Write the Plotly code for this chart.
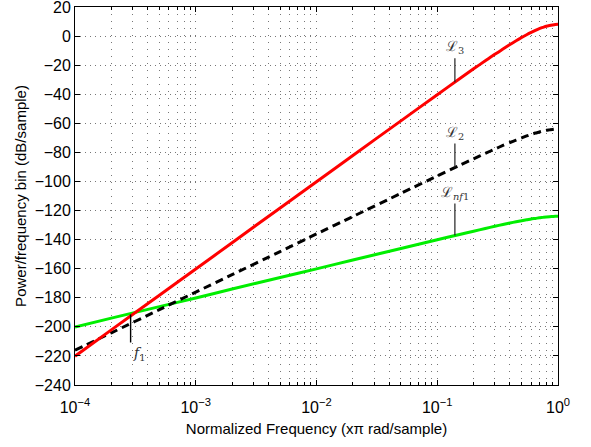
import numpy as np
import plotly.graph_objects as go

freq = [1e-4, 2e-4, 5e-4, 1e-3, 2e-3, 5e-3, 1e-2, 2e-2, 5e-2, 0.1, 0.15, 0.2,
        0.25, 0.3, 0.35, 0.4, 0.45, 0.5, 0.55, 0.6, 0.65, 0.7, 0.75, 0.8, 0.85, 0.9, 0.95, 1.0]
L3 = [-220.2, -202.1, -178.2, -160.2, -142.1, -118.2, -100.2, -82.1, -58.3, -40.3,
      -29.9, -22.5, -17.0, -12.5, -8.9, -5.8, -3.2, -1.0, 0.9, 2.5, 3.9, 5.1, 6.0,
      6.8, 7.3, 7.7, 8.0, 8.1]
L2 = [-216.1, -204.1, -188.2, -176.1, -164.1, -148.2, -136.1, -124.1, -108.2, -96.2,
      -89.2, -84.4, -80.7, -77.7, -75.2, -73.2, -71.5, -70.0, -68.7, -67.6, -66.7,
      -66.0, -65.3, -64.8, -64.5, -64.2, -64.0, -64.0]
Lnf1 = [-200.1, -194.0, -186.1, -180.1, -174.0, -166.1, -160.1, -154.0, -146.1, -140.1,
        -136.6, -134.2, -132.3, -130.8, -129.6, -128.6, -127.7, -127.0, -126.4, -125.8,
        -125.4, -125.0, -124.7, -124.4, -124.2, -124.1, -124.0, -124.0]

xticks = [1e-4, 1e-3, 1e-2, 1e-1, 1e0]
xticktext = ["10<sup>−4</sup>", "10<sup>−3</sup>", "10<sup>−2</sup>", "10<sup>−1</sup>", "10<sup>0</sup>"]
yticks = list(range(-240, 21, 20))

label_f = 0.14
f1 = 3e-4

def at(series, f):
    return float(np.interp(np.log10(f), np.log10(freq), series))

fig = go.Figure()
fig.add_trace(go.Scatter(x=freq, y=Lnf1, mode="lines",
                         line=dict(color="#00ee00", width=3, shape="spline", smoothing=0.6)))
fig.add_trace(go.Scatter(x=freq, y=L2, mode="lines",
                         line=dict(color="black", width=3, dash="8px,5px",
                                   shape="spline", smoothing=0.6)))
fig.add_trace(go.Scatter(x=freq, y=L3, mode="lines",
                         line=dict(color="#ff0000", width=3, shape="spline", smoothing=0.6)))

lab_font = dict(family="DejaVu Serif", size=14, color="#333333")
for series, txt, ay in [(L3, "ℒ<sub>3</sub>", -24),
                        (L2, "ℒ<sub>2</sub>", -24),
                        (Lnf1, "ℒ<sub><i>nf</i>1</sub>", -32)]:
    fig.add_annotation(x=np.log10(label_f), y=at(series, label_f), text=txt,
                       showarrow=True, arrowhead=0, arrowwidth=1.2, arrowcolor="#222",
                       ax=0, ay=ay, yanchor="bottom", font=lab_font)
fig.add_annotation(x=np.log10(f1), y=at(L3, f1), text="<i>f</i><sub>1</sub>",
                   showarrow=True, arrowhead=0, arrowwidth=1.4, arrowcolor="#000",
                   ax=0, ay=28, yanchor="top", xanchor="left", xshift=-2,
                   font=lab_font)

fig.update_xaxes(type="log", range=[-4, 0], tickvals=xticks, ticktext=xticktext,
                 ticks="inside", ticklen=5, tickcolor="black",
                 showline=True, linecolor="black", linewidth=1, mirror="ticks",
                 showgrid=True, gridcolor="#777777", griddash="1px,6px", gridwidth=1,
                 minor=dict(showgrid=True, gridcolor="#777777", griddash="1px,6px",
                            ticks="inside", ticklen=3, tickcolor="black",
                            dtick="D1"),
                 ticklabelstandoff=8, automargin=False,
                 title=dict(text="Normalized Frequency (xπ rad/sample)", standoff=8,
                            font=dict(size=15)),
                 tickfont=dict(size=16), zeroline=False)
fig.update_yaxes(range=[-240, 20.01], tickvals=yticks,
                 ticks="inside", ticklen=5, tickcolor="black",
                 showline=True, linecolor="black", linewidth=1, mirror="ticks",
                 showgrid=True, gridcolor="#777777", griddash="1px,4px", gridwidth=1,
                 ticklabeloverflow="allow", automargin=False,
                 title=dict(text="Power/frequency bin (dB/sample)", standoff=4,
                            font=dict(size=15)),
                 tickfont=dict(size=16), zeroline=False)
fig.update_layout(width=591, height=447, showlegend=False,
                  margin=dict(l=75, r=33, t=7, b=62),
                  plot_bgcolor="white", paper_bgcolor="white",
                  font=dict(family="Liberation Sans, Arial", color="black"))
fig.write_html("out.html")
